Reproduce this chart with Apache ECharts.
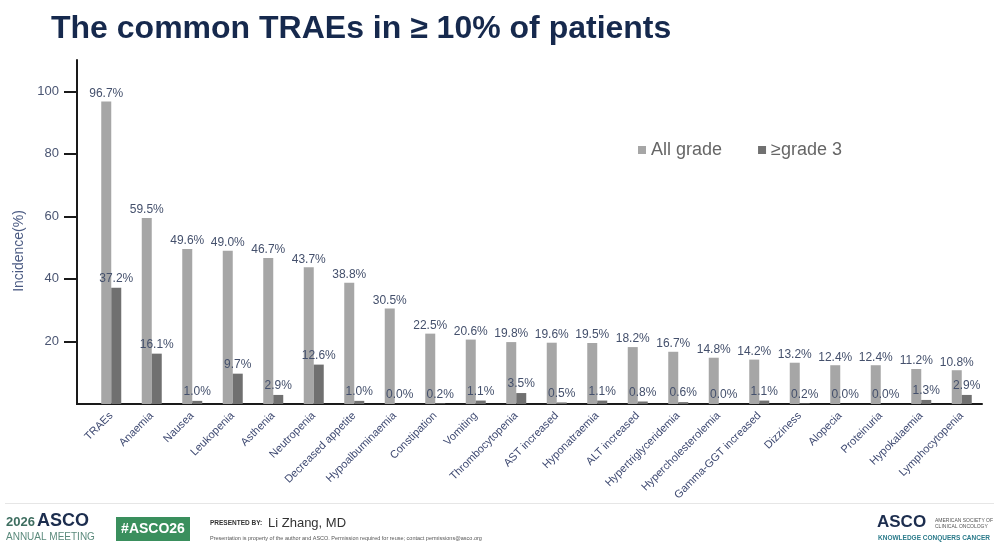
<!DOCTYPE html>
<html>
<head>
<meta charset="utf-8">
<script src="https://cdn.jsdelivr.net/npm/echarts@6/dist/echarts.min.js"></script>
<style>
  html, body { margin: 0; padding: 0; background: #fff; }
  #main { width: 999px; height: 551px; }
</style>
</head>
<body>
<div id="main"></div>
<script>
  // adverse events, sorted by all-grade incidence
  var categories = ['TRAEs', 'Anaemia', 'Nausea', 'Leukopenia', 'Asthenia', 'Neutropenia',
    'Decreased appetite', 'Hypoalbuminaemia', 'Constipation', 'Vomiting', 'Thrombocytopenia',
    'AST increased', 'Hyponatraemia', 'ALT increased', 'Hypertriglyceridemia',
    'Hypercholesterolemia', 'Gamma-GGT increased', 'Dizziness', 'Alopecia', 'Proteinuria',
    'Hypokalaemia', 'Lymphocytopenia'];
  var allGrade = [96.7, 59.5, 49.6, 49.0, 46.7, 43.7, 38.8, 30.5, 22.5, 20.6, 19.8,
    19.6, 19.5, 18.2, 16.7, 14.8, 14.2, 13.2, 12.4, 12.4, 11.2, 10.8];
  var grade3 = [37.2, 16.1, 1.0, 9.7, 2.9, 12.6, 1.0, 0.0, 0.2, 1.1, 3.5,
    0.5, 1.1, 0.8, 0.6, 0.0, 1.1, 0.2, 0.0, 0.0, 1.3, 2.9];
  var yTicks = [20, 40, 60, 80, 100];

  var font = '"Liberation Sans", Arial, sans-serif';
  var pct = function (p) { return p.value.toFixed(1) + '%'; };

  var myChart = echarts.init(document.getElementById('main'));
  var option = {
    backgroundColor: '#fff',
    textStyle: { fontFamily: font },
    animation: false,
    title: {
      text: 'The common TRAEs in \u2265 10% of patients',
      left: 46,
      top: 8,
      textStyle: { fontSize: 32, fontWeight: 'bold', color: '#16294d', fontFamily: font }
    },
    legend: {
      data: ['All grade', '\u2265grade 3'],
      left: 638,
      top: 141,
      padding: 0,
      icon: 'rect',
      itemWidth: 8,
      itemHeight: 8,
      itemGap: 36,
      textStyle: { fontSize: 18, color: '#666', fontFamily: font }
    },
    grid: { left: 91, right: 17, top: 60, bottom: 147 },
    xAxis: {
      type: 'category',
      data: categories,
      axisLine: { lineStyle: { color: '#1a1a1a', width: 2 } },
      axisTick: { show: false },
      axisLabel: {
        rotate: 45,
        interval: 0,
        margin: 10,
        fontSize: 11,
        color: '#3f4a72',
        fontFamily: font
      }
    },
    yAxis: {
      type: 'value',
      min: 0,
      max: 110,
      interval: 20,
      offset: 14,
      name: 'Incidence(%)',
      nameLocation: 'middle',
      nameGap: 49,
      nameTextStyle: { fontSize: 14, color: '#4a5a82', fontFamily: font, padding: [0, 38, 0, 0] },
      axisLine: { show: true, lineStyle: { color: '#1a1a1a', width: 2 } },
      axisTick: {
        show: true, inside: false, length: 13,
        lineStyle: { color: '#1a1a1a', width: 2 },
        customValues: yTicks
      },
      axisLabel: {
        margin: 18, fontSize: 13, color: '#4a5572', fontFamily: font,
        customValues: yTicks
      },
      splitLine: { show: false }
    },
    series: [
      {
        name: 'All grade',
        type: 'bar',
        barWidth: 10,
        barGap: '0%',
        itemStyle: { color: '#a6a6a6' },
        label: {
          show: true, position: 'top', distance: 2,
          formatter: pct, fontSize: 12, color: '#44506c', fontFamily: font
        },
        data: allGrade
      },
      {
        name: '\u2265grade 3',
        type: 'bar',
        barWidth: 10,
        itemStyle: { color: '#707070' },
        label: {
          show: true, position: 'top', distance: 3,
          formatter: pct, fontSize: 12, color: '#44506c', fontFamily: font
        },
        data: grade3
      }
    ],
    graphic: [
      // join the offset y axis to the x axis line
      { type: 'rect', shape: { x: 76, y: 403, width: 16, height: 2 }, style: { fill: '#1a1a1a' } },
      // footer chrome
      { type: 'rect', shape: { x: 5, y: 503, width: 989, height: 1 }, style: { fill: '#e6e6e6' } },
      { type: 'text', left: 6, top: 516, style: { text: '2026', font: 'bold 13px ' + font, fill: '#3e6e60' } },
      { type: 'text', left: 37, top: 512, style: { text: 'ASCO', font: 'bold 18px ' + font, fill: '#1c2d4e' } },
      { type: 'text', left: 6, top: 532, style: { text: 'ANNUAL MEETING', font: '10px ' + font, fill: '#5b8a7c' } },
      { type: 'rect', shape: { x: 116, y: 517, width: 74, height: 24 }, style: { fill: '#3a8f5d' } },
      { type: 'text', x: 153, y: 529, style: { text: '#ASCO26', font: 'bold 14px ' + font, fill: '#fff', align: 'center', verticalAlign: 'middle' } },
      { type: 'text', left: 210, top: 520, style: { text: 'PRESENTED BY:', font: 'bold 6.5px ' + font, fill: '#333' } },
      { type: 'text', left: 268, top: 517, style: { text: 'Li Zhang, MD', font: '13px ' + font, fill: '#333' } },
      { type: 'text', left: 210, top: 535, style: { text: 'Presentation is property of the author and ASCO. Permission required for reuse; contact permissions@asco.org', font: '5.5px ' + font, fill: '#555' } },
      { type: 'text', left: 877, top: 514, style: { text: 'ASCO', font: 'bold 17px ' + font, fill: '#1c2d4e' } },
      { type: 'text', left: 935, top: 518, style: { text: 'AMERICAN SOCIETY OF\nCLINICAL ONCOLOGY', font: '5px ' + font, fill: '#555', lineHeight: 6 } },
      { type: 'text', left: 878, top: 535, style: { text: 'KNOWLEDGE CONQUERS CANCER', font: 'bold 6.5px ' + font, fill: '#2a7a8a' } }
    ]
  };
  myChart.setOption(option);
</script>
</body>
</html>
